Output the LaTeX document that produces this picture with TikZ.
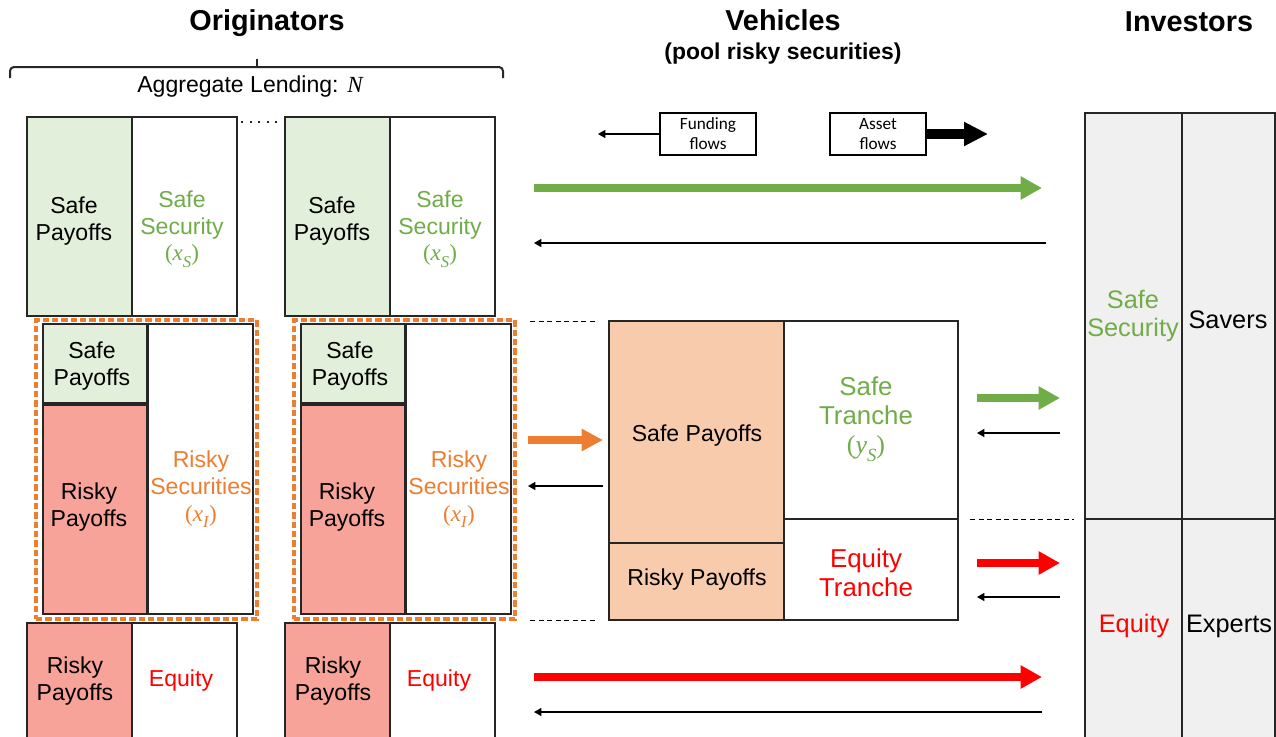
\documentclass[tikz,border=0pt]{standalone}
\usepackage{fontspec}
\setmainfont{Liberation Sans}
\newfontfamily\legendfont{Carlito}
\newfontfamily\varfont{Liberation Serif}
\usetikzlibrary{arrows.meta,fit}

\definecolor{safegreen}{HTML}{70AD47}
\definecolor{riskorange}{HTML}{ED7D31}
\definecolor{eqred}{HTML}{FF0000}
\definecolor{safefill}{HTML}{E2EFDA}
\definecolor{riskfill}{HTML}{F8A39A}
\definecolor{poolfill}{HTML}{F8CBAD}
\definecolor{invfill}{HTML}{F0F0F0}
\definecolor{linec}{HTML}{262626}

\newcommand\txtA{\fontsize{17.3pt}{20.2pt}\selectfont}
\newcommand\txtB{\fontsize{19.4pt}{22pt}\selectfont}
\newcommand\txtC{\fontsize{19pt}{21.3pt}\selectfont}
\newcommand\headfont{\fontsize{21.6pt}{26pt}\selectfont\bfseries}
\newcommand\subhead{\fontsize{17.2pt}{20pt}\selectfont\bfseries}
% a variable with a subscript, set in a serif italic
\newcommand\var[2]{{\varfont(\textit{#1}\raisebox{-0.28em}{\fontsize{0.72em}{1em}\selectfont\textit{#2}})}}

\begin{document}
\begin{tikzpicture}[x=0.75pt,y=-0.75pt,
  cell/.style={draw=linec,line width=1.2pt,inner sep=0pt},
  vcell/.style={draw=linec,line width=0.9pt,inner sep=0pt},
  lbl/.style={align=center,inner sep=0pt,font=\txtA},
  pooldash/.style={draw=riskorange,line width=2.4pt,dash pattern=on 4.8pt off 2.2pt,inner sep=0pt},
  guide/.style={draw=black,line width=0.75pt,dash pattern=on 3.8pt off 2.6pt},
  thinflow/.style={draw=black,line width=1pt,-{Triangle[length=5.5pt,width=6pt]}},
  bigflow/.style={line width=6pt,-{Triangle[length=16pt,width=16.5pt]}},
  legbox/.style={draw=black,line width=0.8pt,inner sep=0pt,align=center,
    font=\legendfont\fontsize{12.9pt}{15pt}\selectfont}]

\clip (0,0) rectangle (1276,736);
\fill[white] (0,0) rectangle (1276,736);

% ---------- headers ----------
\node[font=\headfont] (horig) at (267,23) {Originators};
\node[font=\headfont] (hveh) at (783,20) {Vehicles};
\node[font=\subhead] (hpool) at (783,54) {(pool risky securities)};
\node[font=\headfont] (hinv) at (1189,22) {Investors};

% brace over the originators
\draw[linec,line width=1.5pt,rounded corners=3pt] (10,78) -- (10,67) -- (503,67) -- (503,78);
\coordinate (btip) at (257,59);
\coordinate (bbase) at (257,67);
\draw[linec,line width=1.5pt] (bbase) -- (btip);
\node[font=\txtA] (agg) at (250,87) {Aggregate Lending: {\varfont\itshape N}};

% ---------- originators ----------
\foreach \dx/\n in {0/a,258/b}{
  % safe part of the balance sheet
  \node[cell,fill=safefill,fit={(27+\dx,117)(132+\dx,316)}] (\n-sp) {};
  \node[cell,fit={(132+\dx,117)(237+\dx,316)}] (\n-ss) {};
  \node[lbl] (\n-spt) at (74+\dx,221) {Safe\\Payoffs};
  \node[lbl,text=safegreen] (\n-sst) at (182+\dx,229) {Safe\\Security\\\var{x}{S}};
  % risky part, pooled by the vehicle
  \node[pooldash,fit={(36+\dx,320)(257+\dx,619)}] (\n-pool) {};
  \node[cell,fill=safefill,fit={(43+\dx,324)(147+\dx,403)}] (\n-rsp) {};
  \node[cell,fill=riskfill,fit={(43+\dx,405)(147+\dx,614)}] (\n-rrp) {};
  \node[cell,fit={(148+\dx,324)(253+\dx,614)}] (\n-rs) {};
  \node[lbl] (\n-rspt) at (92+\dx,366) {Safe\\Payoffs};
  \node[lbl] (\n-rrpt) at (89+\dx,507) {Risky\\Payoffs};
  \node[lbl,text=riskorange] (\n-rst) at (201+\dx,489) {Risky\\Securities\\\var{x}{I}};
  % equity part
  \node[cell,fill=riskfill,fit={(27+\dx,623)(132+\dx,750)}] (\n-ep) {};
  \node[cell,fit={(132+\dx,623)(237+\dx,750)}] (\n-eq) {};
  \node[lbl] (\n-ept) at (75+\dx,681) {Risky\\Payoffs};
  \node[lbl,text=eqred] (\n-eqt) at (181+\dx,681) {Equity};
}
\coordinate (dotsL) at (241,122);
\coordinate (dotsR) at (278,122);
\draw[linec,line width=1.6pt,dash pattern=on 1.5pt off 4.9pt] (dotsL) -- (dotsR);

% ---------- legend ----------
\node[legbox,fit={(660,113)(756,155)}] (fund) {};
\node[font=\legendfont\fontsize{12.9pt}{15pt}\selectfont,align=center] at (fund.center) {Funding\\flows};
\node[legbox,fit={(830,113)(926,155)}] (asset) {};
\node[font=\legendfont\fontsize{12.9pt}{15pt}\selectfont,align=center] at (asset.center) {Asset\\flows};
\coordinate (fundtip) at (598,134);
\coordinate (assettip) at (988,134);
\draw[thinflow] (fund.west) -- (fundtip);
\draw[black,line width=6.8pt,-{Triangle[length=18pt,width=17pt]}] (asset.east) -- (assettip);

% ---------- vehicle ----------
\node[vcell,fill=poolfill,fit={(609,321)(784,543)}] (vsp) {};
\node[vcell,fill=poolfill,fit={(609,543)(784,620)}] (vrp) {};
\node[vcell,fit={(784,321)(958,519)}] (vst) {};
\node[vcell,fit={(784,519)(958,620)}] (vet) {};
\node[lbl] (vspt) at (697,436) {Safe Payoffs};
\node[lbl] (vrpt) at (697,580) {Risky Payoffs};
\node[lbl,font=\txtB,text=safegreen] (vstt) at (866,419) {Safe\\Tranche\\\var{y}{S}};
\node[lbl,font=\txtB,text=eqred] (vett) at (866,573) {Equity\\Tranche};

% guides from the originators' pools to the vehicle
\coordinate (g1a) at (530,321); \coordinate (g1b) at (598,321);
\coordinate (g2a) at (530,620); \coordinate (g2b) at (598,620);
\draw[guide] (g1a) -- (g1b);
\draw[guide] (g2a) -- (g2b);
\coordinate (g3a) at (970,519); \coordinate (g3b) at (1074,519);
\draw[guide] (g3a) -- (g3b);

% ---------- investors ----------
\node[vcell,fill=invfill,fit={(1085,113)(1182,519)}] (iss) {};
\node[vcell,fill=invfill,fit={(1182,113)(1275,519)}] (isv) {};
\node[vcell,fill=invfill,fit={(1085,519)(1182,750)}] (ieq) {};
\node[vcell,fill=invfill,fit={(1182,519)(1275,750)}] (iex) {};
\node[lbl,font=\txtC,text=safegreen] (isst) at (1133,316) {Safe\\Security};
\node[lbl,font=\txtC] (isvt) at (1228,320) {Savers};
\node[lbl,font=\txtC,text=eqred] (ieqt) at (1134,626) {Equity};
\node[lbl,font=\txtC] (iext) at (1229,626) {Experts};

% ---------- flows ----------
% safe securities: originators -> savers
\coordinate (s1) at (534,188); \coordinate (s2) at (1042,188);
\draw[bigflow,safegreen] (s1) -- (s2);
\coordinate (s3) at (1046,243); \coordinate (s4) at (534,243);
\draw[thinflow] (s3) -- (s4);
% risky securities: originators -> vehicle
\coordinate (p1) at (528,440); \coordinate (p2) at (603,440);
\draw[riskorange,line width=5.3pt,-{Triangle[length=16pt,width=15.8pt]}] (p1) -- (p2);
\coordinate (p3) at (603,486); \coordinate (p4) at (528,486);
\draw[thinflow] (p3) -- (p4);
% tranches: vehicle -> investors
\coordinate (t1) at (977,398); \coordinate (t2) at (1060,398);
\draw[bigflow,safegreen] (t1) -- (t2);
\coordinate (t3) at (1060,433); \coordinate (t4) at (977,433);
\draw[thinflow] (t3) -- (t4);
\coordinate (t5) at (977,563); \coordinate (t6) at (1060,563);
\draw[bigflow,eqred] (t5) -- (t6);
\coordinate (t7) at (1060,597); \coordinate (t8) at (977,597);
\draw[thinflow] (t7) -- (t8);
% equity: originators -> experts
\coordinate (e1) at (534,677); \coordinate (e2) at (1042,677);
\draw[bigflow,eqred] (e1) -- (e2);
\coordinate (e3) at (1042,712); \coordinate (e4) at (534,712);
\draw[thinflow] (e3) -- (e4);

\end{tikzpicture}
\end{document}
